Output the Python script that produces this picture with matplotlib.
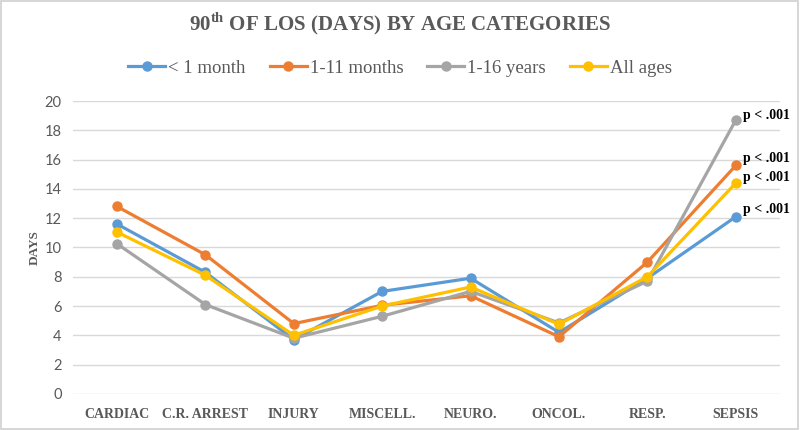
import numpy as np
import matplotlib.pyplot as plt
from matplotlib.patches import Rectangle

categories = ['CARDIAC', 'C.R. ARREST', 'INJURY', 'MISCELL.', 'NEURO.', 'ONCOL.', 'RESP.', 'SEPSIS']
under_1m = [11.6, 8.3, 3.7, 7.0, 7.9, 4.2, 7.9, 12.1]
m1_11 = [12.8, 9.5, 4.8, 6.05, 6.7, 3.9, 9.0, 15.6]
y1_16 = [10.25, 6.1, 3.8, 5.3, 7.0, 4.85, 7.7, 18.7]
all_ages = [11.05, 8.1, 4.0, 6.0, 7.3, 4.75, 8.0, 14.4]
p_label = 'p < .001'

serif = 'Liberation Serif'
grey_txt = '#595959'

fig = plt.figure(figsize=(8, 4.3), dpi=100)
ax = fig.add_axes([0.091, 0.084, 0.884, 0.681])

x = np.arange(len(categories))
series = [
    ('< 1 month', under_1m, '#5B9BD5'),
    ('1-11 months', m1_11, '#ED7D31'),
    ('1-16 years', y1_16, '#A5A5A5'),
    ('All ages', all_ages, '#FFC000'),
]
for name, vals, col in series:
    ax.plot(x, vals, color=col, lw=2.3, marker='o', ms=6.5, label=name, zorder=3)

# p-value labels next to the sepsis points
offsets = {'< 1 month': (5, 5), '1-11 months': (5, 5), '1-16 years': (5, 3.6), 'All ages': (5, 4.3)}
for name, vals, col in series:
    ax.annotate(p_label, (x[-1], vals[-1]), xytext=offsets[name], textcoords='offset points',
                fontsize=10, fontweight='bold', family=serif, color='black', va='center', ha='left')

ax.set_xlim(-0.5, len(categories) - 0.5)
ax.set_ylim(0, 20)
ax.set_yticks(range(0, 21, 2))
ax.set_xticks(x)
ax.set_xticklabels(categories, family=serif, fontweight='bold', fontsize=10, color=grey_txt)
for lab in ax.get_yticklabels():
    lab.set_family('Lato')
    lab.set_fontsize(10.5)
    lab.set_color(grey_txt)
ax.tick_params(length=0, pad=8)
ax.tick_params(axis='x', pad=10)
ax.grid(axis='y', color='#d9d9d9', lw=1)
ax.set_axisbelow(True)
for s in ax.spines.values():
    s.set_visible(False)

ax.set_ylabel('DAYS', family=serif, fontweight='bold', fontsize=9.5, color=grey_txt, labelpad=3)

fig.text(0.5, 0.945, r'90$^{\mathregular{th}}$ OF LOS (DAYS) BY AGE CATEGORIES', ha='center', va='center',
         family=serif, fontweight='bold', fontsize=15, color=grey_txt)
fig.legend(loc='center', bbox_to_anchor=(0.5, 0.842), ncol=4, frameon=False,
           prop={'family': serif, 'size': 13.5}, handlelength=1.97, columnspacing=1.28,
           handletextpad=0.16, labelcolor=grey_txt)

fig.patches.append(Rectangle((0.001, 0.002), 0.997, 0.995, transform=fig.transFigure,
                             fill=False, edgecolor='#d0d0d0', lw=1.2))

fig.savefig('out.png', dpi=100)
